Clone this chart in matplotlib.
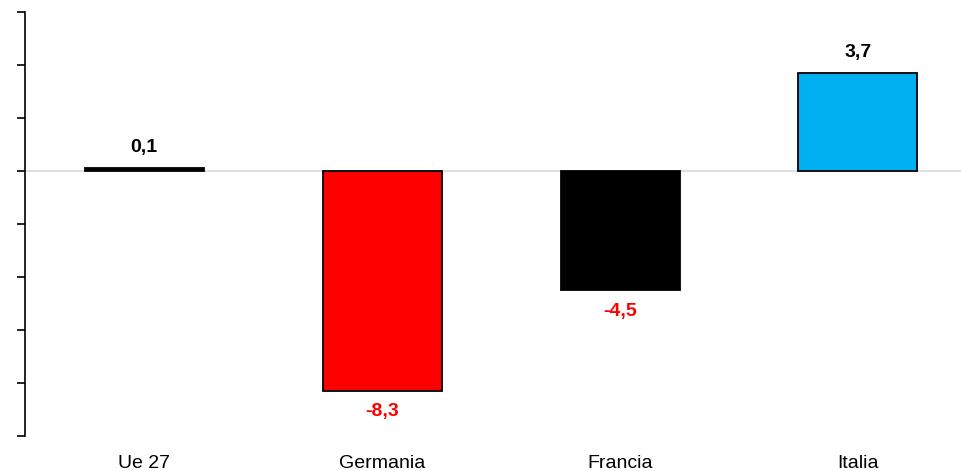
import matplotlib
matplotlib.use('Agg')
import matplotlib.pyplot as plt
import numpy as np

# ===== DATA =====
PAESI = ["Ue 27", "Germania", "Francia", "Italia"]
VALORI = [0.1, -8.3, -4.5, 3.7]
ETICHETTE = ["0,1", "-8,3", "-4,5", "3,7"]
COLORI = ["#000000", "#FF0000", "#000000", "#00B0F0"]

plt.rcParams['font.family'] = ['Liberation Sans Narrow', 'Liberation Sans', 'DejaVu Sans']

fig = plt.figure(figsize=(9.62, 4.71), dpi=100)
ax = fig.add_axes([25/962, 35/471, 952/962, 424/471])

x = np.arange(len(PAESI))
ax.bar(x, VALORI, 0.5, color=COLORI, edgecolor='black', linewidth=1.3, zorder=3)
ax.axhline(0, color='#D9D9D9', linewidth=1.2, zorder=2)

for i, (v, lab) in enumerate(zip(VALORI, ETICHETTE)):
    col = 'black' if v >= 0 else '#FF0000'
    off = 15 if v >= 0 else -15
    ax.annotate(lab, (i, v), xytext=(0, off), textcoords='offset points',
                ha='center', va='center', fontsize=14, fontweight='bold', color=col)

ax.set_xlim(-0.5, 3.5)
ax.set_ylim(-10, 6)
ax.set_yticks(np.arange(-10, 7, 2))
ax.set_yticklabels([])
ax.set_xticks(x)
ax.set_xticklabels(PAESI, fontsize=14)
ax.tick_params(axis='x', length=0, pad=14)
ax.tick_params(axis='y', length=6, width=1.2, direction='out')
for s in ['top', 'right', 'bottom']:
    ax.spines[s].set_visible(False)
ax.spines['left'].set_linewidth(1.2)

fig.savefig("out.png", dpi=100)
